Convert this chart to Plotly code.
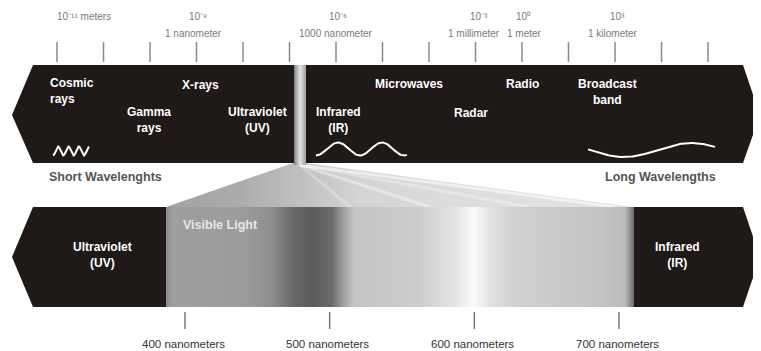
import numpy as np
import plotly.graph_objects as go

# --- chart content -------------------------------------------------------
top_tick_count = 15
scale_exponents = ["10⁻¹¹ meters", "10⁻⁹", "10⁻⁶", "10⁻³", "10⁰", "10³"]
scale_units = ["", "1 nanometer", "1000 nanometer", "1 millimeter", "1 meter", "1 kilometer"]
band_labels = ["Cosmic<br>rays", "X-rays", "Gamma<br>rays", "Ultraviolet<br>(UV)",
               "Infrared<br>(IR)", "Microwaves", "Radar", "Radio", "Broadcast<br>band"]
visible_nm = [400, 500, 600, 700]
visible_labels = ["400 nanometers", "500 nanometers", "600 nanometers", "700 nanometers"]

DARK = "#1f1917"
FONT = "Arial, Liberation Sans, sans-serif"
PAGE_MARGIN = 8  # default body margin of the html page

fig = go.Figure()


def poly(xs, ys, color=DARK, grad=None):
    kw = dict(fillcolor=color)
    if grad is not None:
        kw = dict(fillgradient=grad)
    fig.add_trace(go.Scatter(x=xs, y=ys, mode="lines", fill="toself",
                             line=dict(width=0, color=color), hoverinfo="skip",
                             showlegend=False, **kw))


def seg(x0, y0, x1, y1, color="#8a8a8a", width=1.5):
    fig.add_trace(go.Scatter(x=[x0, x1], y=[y0, y1], mode="lines",
                             line=dict(color=color, width=width),
                             hoverinfo="skip", showlegend=False))


# funnel from the gap down to the visible band
fstops = [(166, "#a2a2a2"), (240, "#acacac"), (300, "#c0c0c0"), (360, "#d4d4d4"),
          (450, "#dcdcdc"), (634, "#e4e4e4")]
poly([293, 305, 634, 166, 293], [163, 163, 207, 207, 163],
     grad=dict(type="horizontal", start=166, stop=634,
               colorscale=[[(x - 166) / 468, c] for x, c in fstops]))
# light rays in the funnel
for xe, op in [(350, 0.25), (430, 0.4), (530, 0.3), (615, 0.55)]:
    fig.add_trace(go.Scatter(x=[300, xe], y=[165, 207], mode="lines",
                             line=dict(color="white", width=3), opacity=op,
                             hoverinfo="skip", showlegend=False))

# top band (two halves split by the gap)
poly([12, 33, 295, 295, 33, 12], [115, 65, 65, 163, 163, 115])
poly([305, 743, 760, 743, 305, 305], [65, 65, 115, 163, 163, 65])
# gap strip
poly([294, 306, 306, 294, 294], [65, 65, 165, 165, 65],
     grad=dict(type="horizontal", start=294, stop=306,
               colorscale=[[0, "#808080"], [0.5, "#e4e4e4"], [1, "#a0a0a0"]]))

# bottom band
poly([12, 33, 167, 167, 33, 12], [257, 207, 207, 307, 307, 257])
poly([633, 743, 760, 743, 633, 633], [207, 207, 257, 307, 307, 207])
vstops = [(166, "#8a8a8a"), (172, "#9e9e9e"), (245, "#9c9c9c"), (272, "#8e8e8e"),
          (292, "#6a6a6a"), (312, "#5a5a5a"), (332, "#6c6c6c"), (344, "#a2a2a2"),
          (354, "#c4c4c4"), (420, "#cdcdcd"), (455, "#e4e4e4"), (474, "#fbfbfb"),
          (490, "#e2e2e2"), (515, "#d0d0d0"), (600, "#c4c4c4"), (625, "#bbbbbb"),
          (634, "#6a6a6a")]
poly([166, 634, 634, 166, 166], [207, 207, 307, 307, 207],
     grad=dict(type="horizontal", start=166, stop=634,
               colorscale=[[(x - 166) / 468, c] for x, c in vstops]))

# top ticks and scale labels
tick_x = [57 + i * (708 - 57) / (top_tick_count - 1) for i in range(top_tick_count)]
for x in tick_x:
    seg(x, 42, x, 62)
exp_x = [55, 198, 338, 479, 523, 617]
unit_x = [0, 193, 336, 474, 524, 613]
for i, t in enumerate(scale_exponents):
    fig.add_annotation(x=exp_x[i], y=16, text=t, showarrow=False,
                       xanchor="left" if i == 0 else "center",
                       font=dict(size=10, color="#7a7a7a", family=FONT))
    if scale_units[i]:
        fig.add_annotation(x=unit_x[i], y=33, text=scale_units[i], showarrow=False,
                           font=dict(size=10, color="#7a7a7a", family=FONT))

# band labels
band_pos = [(48, 90.5), (200, 85), (149, 119.5), (257, 119.5), (338, 119.5),
            (409, 84), (471, 113), (522, 84), (607, 92)]
for (x, y), t in zip(band_pos, band_labels):
    fig.add_annotation(x=x, y=y, text="<b>" + t + "</b>", showarrow=False,
                       xanchor="left" if t.startswith("Cosmic") else "center",
                       align="left" if t.startswith("Cosmic") else "center",
                       font=dict(size=12, color="white", family=FONT))

# little waves
xw = np.linspace(53, 89, 160)
fig.add_trace(go.Scatter(x=xw, y=151 + 4.5 * np.cos(2 * np.pi * (xw - 53) / 10.3),
                         mode="lines", line=dict(color="white", width=2),
                         hoverinfo="skip", showlegend=False))
xw = np.linspace(316, 407, 120)
fig.add_trace(go.Scatter(x=xw, y=149 + 6.5 * np.cos(2 * np.pi * (xw - 316) / 44),
                         mode="lines", line=dict(color="white", width=2),
                         hoverinfo="skip", showlegend=False))
xw = np.linspace(588, 715, 120)
fig.add_trace(go.Scatter(x=xw, y=150 + 7 * np.sin(2 * np.pi * (xw - 590) / 135),
                         mode="lines", line=dict(color="white", width=2),
                         hoverinfo="skip", showlegend=False))

fig.add_annotation(x=47, y=177, text="<b>Short Wavelenghts</b>", showarrow=False,
                   xanchor="left", font=dict(size=12.5, color="#555555", family=FONT))
fig.add_annotation(x=718, y=177, text="<b>Long Wavelengths</b>", showarrow=False,
                   xanchor="right", font=dict(size=12.5, color="#555555", family=FONT))

# bottom band labels
fig.add_annotation(x=181, y=225, text="<b>Visible Light</b>", showarrow=False,
                   xanchor="left", font=dict(size=12.5, color="#e6e6e6", family=FONT))
fig.add_annotation(x=102, y=255, text="<b>Ultraviolet<br>(UV)</b>", showarrow=False,
                   font=dict(size=12, color="white", family=FONT))
fig.add_annotation(x=677, y=255, text="<b>Infrared<br>(IR)</b>", showarrow=False,
                   font=dict(size=12, color="white", family=FONT))


# visible-light nanometer scale
def nm_to_x(nm):
    return 185 + (nm - 400) * (619 - 185) / 300


for nm, lab in zip(visible_nm, visible_labels):
    x = nm_to_x(nm)
    seg(x, 312, x, 329, color="#777777")
    fig.add_annotation(x=x - 2, y=344, text=lab, showarrow=False,
                       font=dict(size=11.5, color="#333333", family=FONT))

# the page adds an 8px body margin, so the plot is shrunk and its ranges
# start at 8 to keep pixel coordinates aligned with the window
fig.update_xaxes(range=[PAGE_MARGIN, 761], visible=False, fixedrange=True)
fig.update_yaxes(range=[351, PAGE_MARGIN], visible=False, fixedrange=True)
fig.update_layout(width=761 - PAGE_MARGIN, height=351 - PAGE_MARGIN,
                  margin=dict(l=0, r=0, t=0, b=0),
                  plot_bgcolor="white", paper_bgcolor="white", showlegend=False)
fig.write_html("out.html")
